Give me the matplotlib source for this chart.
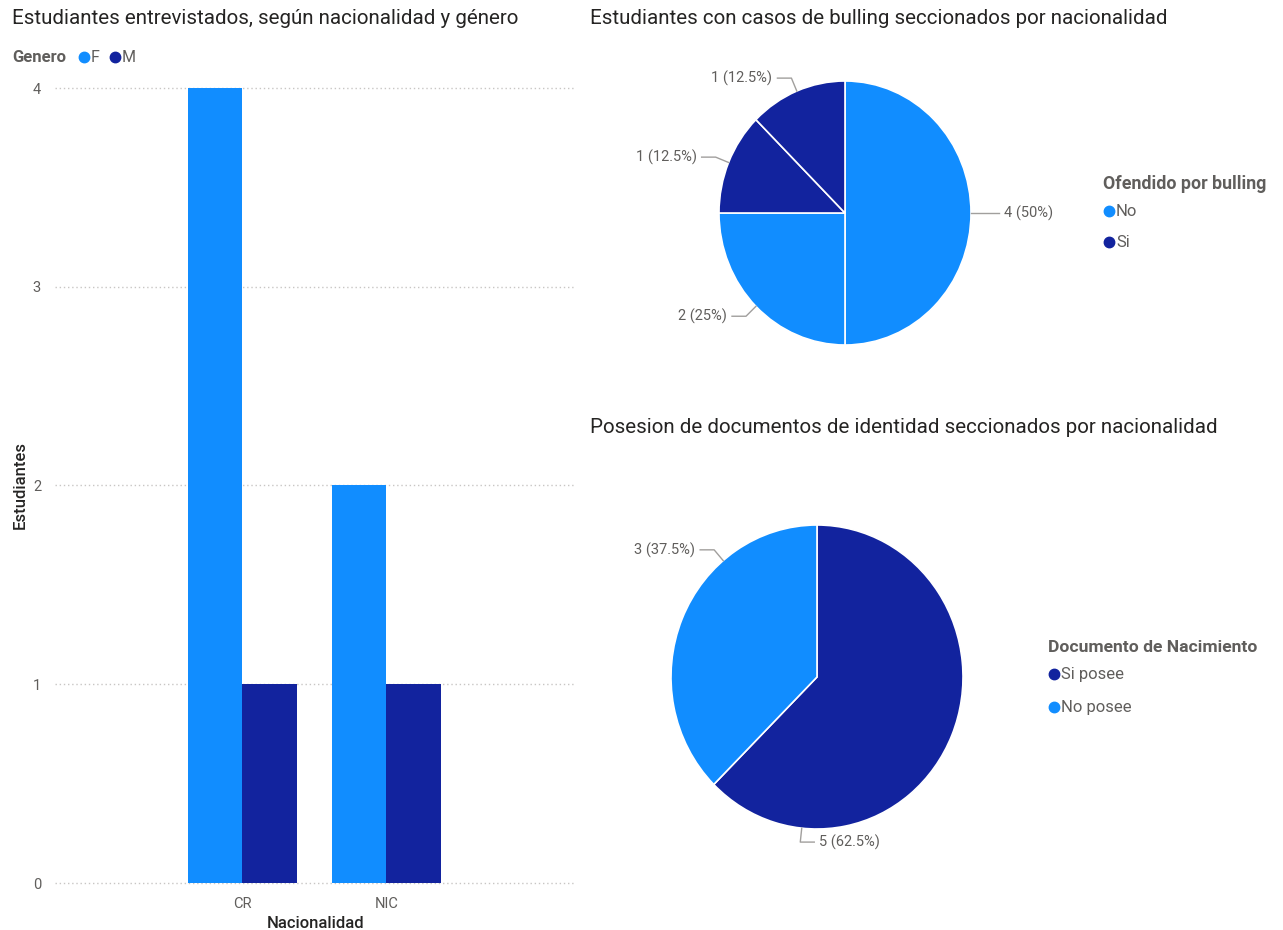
import numpy as np
import matplotlib
matplotlib.use('Agg')
import matplotlib.pyplot as plt
from matplotlib.lines import Line2D

# datos
nacionalidad = ['CR', 'NIC']
f_vals = [4, 2]
m_vals = [1, 1]
y_ticks = [0, 1, 2, 3, 4]

bull_vals = [4, 2, 1, 1]
bull_cat = ['No', 'No', 'Si', 'Si']
bull_legend = ['No', 'Si']

doc_labels = ['Si posee', 'No posee']
doc_vals = [5, 3]

LIGHT = '#118DFF'
DARK = '#12239E'
TITLE_C = '#252423'
GRAY = '#605E5C'
GRID = '#C8C6C4'

plt.rcParams['font.family'] = ['Roboto', 'DejaVu Sans']

W, H = 1283, 930
fig = plt.figure(figsize=(W / 100, H / 100), dpi=100)
fig.patch.set_facecolor('white')

def fx(px):
    return px / W

def fy(py):
    return 1 - py / H

# ---- barras
ax = fig.add_axes([fx(55), fy(883), fx(575) - fx(55), fy(88) - fy(883)])
x = np.arange(len(nacionalidad))
bw = 0.38
ax.bar(x - bw / 2, f_vals, bw, color=LIGHT, zorder=3)
ax.bar(x + bw / 2, m_vals, bw, color=DARK, zorder=3)
ax.set_xlim(-1.30, 2.31)
ax.set_ylim(0, 4)
ax.set_yticks(y_ticks)
ax.set_xticks(x)
ax.set_xticklabels(nacionalidad)
for yv in y_ticks:
    ax.axhline(yv, color=GRID, lw=1, ls=(0, (1, 2)), zorder=1, clip_on=False)
for s in ax.spines.values():
    s.set_visible(False)
ax.tick_params(length=0, colors=GRAY, labelsize=10.5)
ax.tick_params(axis='y', pad=10)
ax.tick_params(axis='x', pad=10)
fig.text(fx(20), fy(485), 'Estudiantes', fontsize=12, color=TITLE_C, fontweight='medium',
         rotation=90, ha='center', va='center')
fig.text(fx(316), fy(923), 'Nacionalidad', fontsize=12, color=TITLE_C, fontweight='medium',
         ha='center', va='center')

fig.text(fx(12), fy(18), 'Estudiantes entrevistados, según nacionalidad y género',
         fontsize=14.8, color=TITLE_C, va='center', ha='left')

def legend_item(xp, yp, color, label, size=12):
    fig.add_artist(Line2D([fx(xp)], [fy(yp)], marker='o', ms=7.5, color=color,
                          transform=fig.transFigure, ls='none'))
    fig.text(fx(xp + 7), fy(yp), label, fontsize=size, color=GRAY, va='center', ha='left')

fig.text(fx(12), fy(57), 'Genero', fontsize=12, color=GRAY, fontweight='bold', va='center')
legend_item(84, 57, LIGHT, 'F', 11.5)
legend_item(115, 57, DARK, 'M', 11.5)

# ---- pies
def pie_labels(ax, wedges, vals, angles, sides):
    total = sum(vals)
    inv = ax.transData.inverted()
    for w, v, a, side in zip(wedges, vals, angles, sides):
        r = np.deg2rad(a)
        d = np.array([np.cos(r), np.sin(r)])
        p0 = ax.transData.transform(d * 1.0)
        p1 = p0 + 14 * d
        p2 = p1 + np.array([side * 14, 0])
        pt = p2 + np.array([side * 5, 0])
        pts = inv.transform(np.array([p0, p1, p2]))
        ax.plot(pts[:, 0], pts[:, 1], color='#A19F9D', lw=1, clip_on=False)
        tx, ty = inv.transform(pt)
        ax.text(tx, ty, '%d (%g%%)' % (v, 100 * v / total), fontsize=10.5, color=GRAY,
                ha='left' if side > 0 else 'right', va='center', clip_on=False)

def make_pie(cx, cy, rx, ry, vals, colors):
    a = fig.add_axes([fx(cx - 1.25 * rx), fy(cy + 1.25 * ry), 2.5 * rx / W, 2.5 * ry / H])
    wedges, _ = a.pie(vals, colors=colors, startangle=90, counterclock=False,
                      wedgeprops=dict(edgecolor='white', linewidth=1.2))
    a.set_aspect('auto')
    a.set_xlim(-1.25, 1.25)
    a.set_ylim(-1.25, 1.25)
    a.axis('off')
    return a, wedges

bull_colors = [LIGHT if c == 'No' else DARK for c in bull_cat]
ax1, w1 = make_pie(845, 213, 126, 132, bull_vals, bull_colors)
mid1 = [(w.theta1 + w.theta2) / 2 for w in w1]
pie_labels(ax1, w1, bull_vals, mid1, [1 if np.cos(np.deg2rad(m)) > 0 else -1 for m in mid1])

fig.text(fx(590), fy(18), 'Estudiantes con casos de bulling seccionados por nacionalidad',
         fontsize=14.8, color=TITLE_C, va='center', ha='left')
fig.text(fx(1103), fy(184), 'Ofendido por bulling', fontsize=12.8, color=GRAY,
         fontweight='bold', va='center')
legend_item(1109, 211, LIGHT, bull_legend[0])
legend_item(1109, 242, DARK, bull_legend[1])

ax2, w2 = make_pie(817, 677, 146, 152, doc_vals, [DARK, LIGHT])
pie_labels(ax2, w2, doc_vals, [-96, 130], [1, -1])

fig.text(fx(590), fy(427), 'Posesion de documentos de identidad seccionados por nacionalidad',
         fontsize=14.8, color=TITLE_C, va='center', ha='left')
fig.text(fx(1048), fy(647), 'Documento de Nacimiento', fontsize=12.6, color=GRAY,
         fontweight='bold', va='center')
legend_item(1054, 674, DARK, doc_labels[0])
legend_item(1054, 707, LIGHT, doc_labels[1])

fig.savefig('out.png', dpi=100, facecolor='white')
